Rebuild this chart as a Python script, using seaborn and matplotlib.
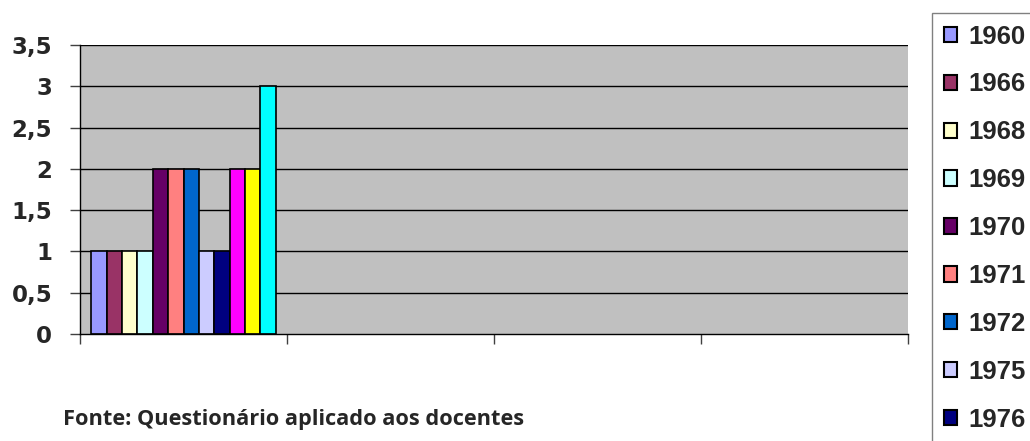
import matplotlib
matplotlib.use("Agg")
import matplotlib.pyplot as plt
import numpy as np
import pandas as pd
import seaborn as sns

# data (all bars sit in the first category slot)
anos = ["1960", "1966", "1968", "1969", "1970", "1971", "1972", "1975", "1976", "1978", "1979", "1980"]
valores = [1, 1, 1, 1, 2, 2, 2, 1, 1, 2, 2, 3]
cores = ["#9999FF", "#993366", "#FFFFCC", "#CCFFFF", "#660066", "#FF8080",
         "#0066CC", "#CCCCFF", "#000080", "#FF00FF", "#FFFF00", "#00FFFF"]
categorias = ["c1", "c2", "c3", "c4"]
yticks = [0, 0.5, 1, 1.5, 2, 2.5, 3, 3.5]
ytick_labels = ["0", "0,5", "1", "1,5", "2", "2,5", "3", "3,5"]
n_legenda = 9  # only the first nine legend rows fit inside the picture

df = pd.DataFrame({"cat": ["c1"] * len(anos), "ano": anos, "valor": valores})

sns.set_style("white")
plt.rcParams["font.family"] = ["DejaVu Sans"]

fig = plt.figure(figsize=(10.3, 4.41), dpi=100)
ax = fig.add_axes([80 / 1030, 1 - 334 / 441, 828 / 1030, 289 / 441])
ax.set_facecolor("#C0C0C0")

sns.barplot(data=df, x="cat", y="valor", hue="ano", order=categorias,
            hue_order=anos, palette=cores, width=0.89, dodge=True,
            edgecolor="black", linewidth=1.2, saturation=1, legend=False, ax=ax)

ax.set_ylim(0, 3.5)
ax.set_xlim(-0.5, 3.5)
ax.set_yticks(yticks)
ax.set_yticklabels(ytick_labels, fontsize=16.5, fontweight="bold")
ax.set_xticks([-0.5, 0.5, 1.5, 2.5, 3.5])
ax.set_xticklabels([])
ax.set_xlabel("")
ax.set_ylabel("")
ax.tick_params(axis="both", direction="out", length=7, width=1, color="#404040",
               left=True, bottom=True, pad=13)
for y in yticks[1:]:
    ax.axhline(y, color="black", lw=1, zorder=0.5)
ax.set_axisbelow(True)
for s in ["top", "right"]:
    ax.spines[s].set_visible(False)
for s in ["left", "bottom"]:
    ax.spines[s].set_color("black")
    ax.spines[s].set_linewidth(1)

# legend on the right (its frame runs off the bottom like the original)
handles = [plt.Rectangle((0, 0), 1, 1, facecolor=c, edgecolor="black", lw=1.5)
           for c in cores[:n_legenda]]
leg = fig.legend(handles, anos[:n_legenda], loc="upper left",
                 bbox_to_anchor=(932 / 1030, 1 - 13 / 441),
                 prop={"family": "Liberation Sans", "weight": "bold", "size": 18.5},
                 frameon=True, fancybox=False,
                 handlelength=0.54, handleheight=0.54, handletextpad=0.42,
                 labelspacing=0.93, borderpad=0.45, borderaxespad=0)
leg.get_frame().set_edgecolor("#606060")
leg.get_frame().set_linewidth(1)

fig.text(63 / 1030, 1 - 420 / 441, "Fonte: Questionário aplicado aos docentes",
         fontsize=15.7, fontweight="bold", family=["Open Sans", "DejaVu Sans"], va="center")

fig.savefig("out.png", dpi=100)
